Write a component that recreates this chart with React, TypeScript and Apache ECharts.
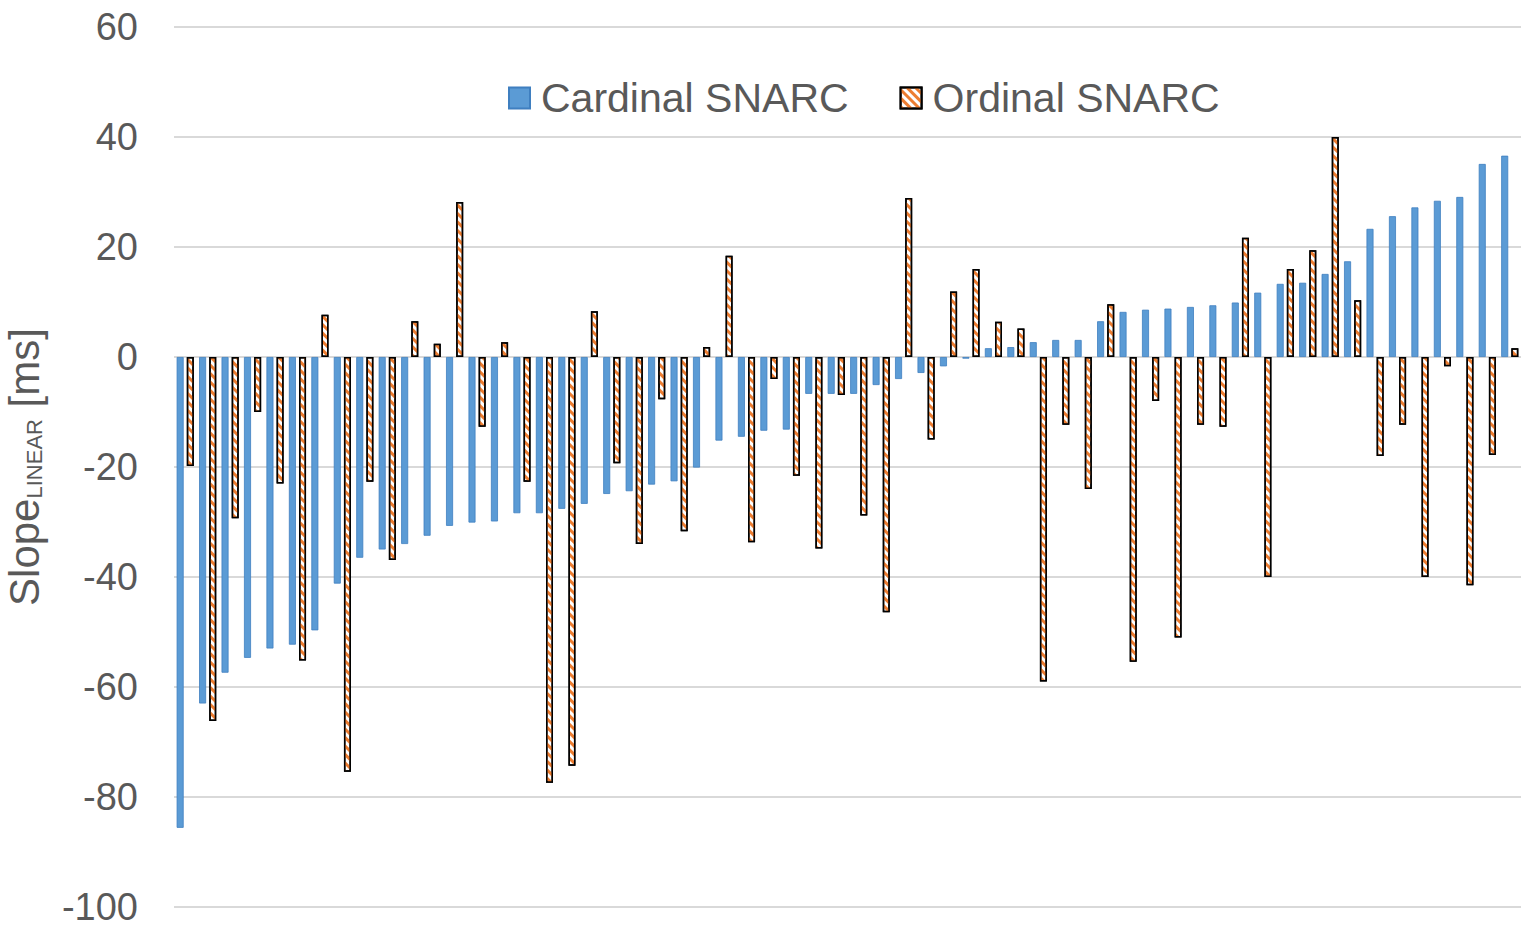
import React, { useEffect, useRef } from "react";
import * as echarts from "echarts";

const categories: string[] = Array.from({ length: 60 }, (_, i) => String(i + 1));

const cardinalSNARC: number[] = [
  -85.6, -63, -57.4, -54.7, -53, -52.3, -49.7, -41.2, -36.5, -35,
  -34, -32.5, -30.7, -30.1, -29.9, -28.4, -28.4, -27.6, -26.7, -24.9,
  -24.4, -23.2, -22.6, -20.1, -15.2, -14.5, -13.4, -13.2, -6.7, -6.7,
  -6.7, -5.1, -4, -2.9, -1.7, -0.3, 1.6, 1.8, 2.7, 3.1,
  3.1, 6.5, 8.2, 8.6, 8.8, 9.1, 9.4, 9.9, 11.7, 13.3,
  13.5, 15.1, 17.4, 23.3, 25.6, 27.2, 28.4, 29.1, 35.1, 36.6,
];

const ordinalSNARC: number[] = [
  -19.8, -66.2, -29.3, -10, -23, -55.2, 7.7, -75.4, -22.7, -36.9,
  6.5, 2.4, 28.2, -12.7, 2.7, -22.7, -77.4, -74.3, 8.3, -19.3,
  -34, -7.7, -31.7, 1.8, 18.4, -33.7, -4, -21.6, -34.8, -6.9,
  -28.8, -46.4, 28.9, -15, 11.9, 16, 6.4, 5.2, -59, -12.3,
  -24, 9.6, -55.4, -8, -51, -12.3, -12.7, 21.7, -40, 16,
  19.4, 40, 10.3, -18, -12.3, -40, -1.7, -41.5, -17.8, 1.6,
];

const yMin = -100;
const yMax = 60;
const yInterval = 20;

const FONT = "'Liberation Sans', Arial, sans-serif";
const TEXT_COLOR = "#595959";

export default function App() {
  const ref = useRef<HTMLDivElement>(null);

  useEffect(() => {
    if (!ref.current) return;
    const chart = echarts.init(ref.current, null, { renderer: "svg" });
    chart.setOption({
      animation: false,
      backgroundColor: "#ffffff",
      textStyle: { fontFamily: FONT },
      legend: {
        left: 508,
        top: 75,
        padding: 0,
        itemWidth: 21,
        itemHeight: 21,
        itemGap: 51,
        icon: "rect",
        selectedMode: false,
        textStyle: {
          fontFamily: FONT,
          fontSize: 41,
          color: TEXT_COLOR,
          lineHeight: 46,
          padding: [0, 0, 0, 6],
        },
        data: ["Cardinal SNARC", "Ordinal SNARC"],
      },
      grid: {
        left: 174,
        right: 14,
        top: 27,
        bottom: 24,
        containLabel: false,
        outerBoundsMode: "none",
      },
      xAxis: {
        type: "category",
        data: categories,
        axisLine: { show: false },
        axisTick: { show: false },
        axisLabel: { show: false },
        splitLine: { show: false },
      },
      yAxis: {
        type: "value",
        min: yMin,
        max: yMax,
        interval: yInterval,
        axisLine: { show: false },
        axisTick: { show: false },
        axisLabel: {
          fontFamily: FONT,
          fontSize: 38,
          color: TEXT_COLOR,
          margin: 36,
        },
        splitLine: { lineStyle: { color: "#D9D9D9", width: 2 } },
        name: "{a|Slope}{b|LINEAR}{a| [ms]}",
        nameLocation: "middle",
        nameRotate: 90,
        nameGap: 129,
        nameTextStyle: {
          rich: {
            a: { fontFamily: FONT, fontSize: 42, color: TEXT_COLOR, lineHeight: 46, verticalAlign: "bottom" },
            b: { fontFamily: FONT, fontSize: 22, color: TEXT_COLOR, lineHeight: 26, verticalAlign: "bottom" },
          },
        },
      },
      series: [
        {
          name: "Cardinal SNARC",
          type: "bar",
          data: cardinalSNARC,
          barWidth: 7,
          barGap: "45%",
          itemStyle: { color: "#5B9BD5", borderColor: "#3F7FC0", borderWidth: 0.8 },
        },
        {
          name: "Ordinal SNARC",
          type: "bar",
          data: ordinalSNARC,
          barWidth: 7,
          itemStyle: {
            color: "#ffffff",
            borderColor: "#000000",
            borderWidth: 1.5,
            decal: {
              symbol: "rect",
              color: "#ED7D31",
              backgroundColor: "#ffffff",
              dashArrayX: [1, 0],
              dashArrayY: [3, 2.5],
              symbolSize: 1,
              rotation: Math.PI / 4,
            },
          },
        },
      ],
    });
    return () => chart.dispose();
  }, []);

  return <div ref={ref} style={{ width: 1535, height: 931, position: "absolute", left: 0, top: 0 }} />;
}
